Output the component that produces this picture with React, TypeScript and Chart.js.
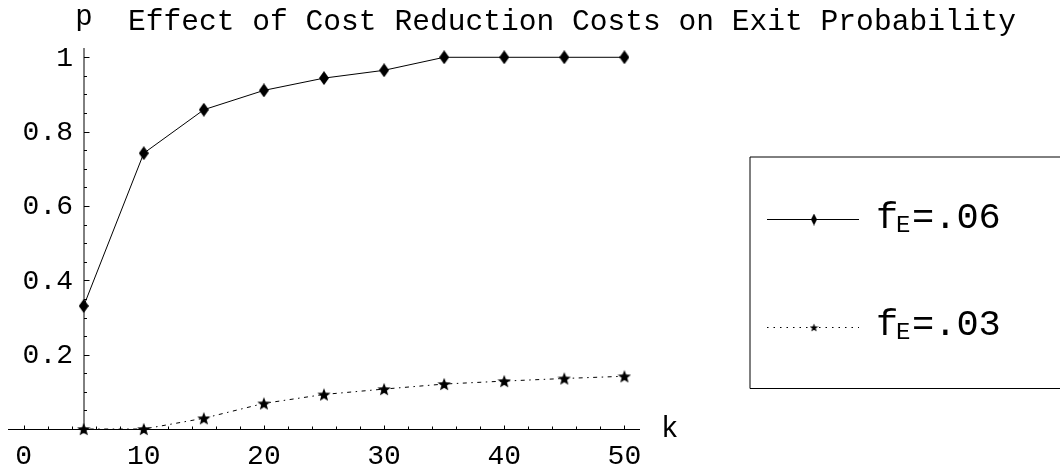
import React, { useEffect, useRef } from 'react';
import { Chart, registerables } from 'chart.js';

Chart.register(...registerables);

// ---- data ----
const kValues = [5, 10, 15, 20, 25, 30, 35, 40, 45, 50];
const pHigh = [0.331, 0.742, 0.859, 0.911, 0.944, 0.965, 1, 1, 1, 1];
const pLow = [0, 0, 0.029, 0.069, 0.093, 0.1075, 0.121, 0.129, 0.136, 0.142];
const xTickLabels = [0, 10, 20, 30, 40, 50];
const yTickLabels = [0.2, 0.4, 0.6, 0.8, 1];
const seriesValues = ['.06', '.03'];
const titleText = 'Effect of Cost Reduction Costs on Exit Probability';
const xAxisLabel = 'k';
const yAxisLabel = 'p';

const FONT = '"Liberation Mono", "DejaVu Sans Mono", monospace';

function makeDiamond(w: number, h: number) {
  const c = document.createElement('canvas');
  c.width = w;
  c.height = h;
  const ctx = c.getContext('2d')!;
  ctx.fillStyle = '#000';
  ctx.beginPath();
  ctx.moveTo(w / 2, 0);
  ctx.lineTo(w, h / 2);
  ctx.lineTo(w / 2, h);
  ctx.lineTo(0, h / 2);
  ctx.closePath();
  ctx.fill();
  return c;
}

function makeStar(size: number, innerRatio: number) {
  const c = document.createElement('canvas');
  c.width = size;
  c.height = size;
  const ctx = c.getContext('2d')!;
  const cx = size / 2, cy = size / 2 + size * 0.05;
  const ro = size / 2, ri = ro * innerRatio;
  ctx.fillStyle = '#000';
  ctx.beginPath();
  for (let i = 0; i < 10; i++) {
    const r = i % 2 === 0 ? ro : ri;
    const a = -Math.PI / 2 + (i * Math.PI) / 5;
    const px = cx + r * Math.cos(a);
    const py = cy + r * Math.sin(a);
    if (i === 0) ctx.moveTo(px, py);
    else ctx.lineTo(px, py);
  }
  ctx.closePath();
  ctx.fill();
  return c;
}

function drawSpaced(
  ctx: CanvasRenderingContext2D,
  text: string,
  x: number,
  y: number,
  font: string,
  spacing: number,
  align: 'left' | 'center' | 'right'
) {
  ctx.save();
  ctx.font = font;
  (ctx as any).letterSpacing = '0px';
  const base = ctx.measureText(text).width;
  const w = base + spacing * (text.length - 1);
  let sx = x;
  if (align === 'center') sx = x - w / 2;
  else if (align === 'right') sx = x - w;
  (ctx as any).letterSpacing = spacing + 'px';
  ctx.textAlign = 'left';
  ctx.textBaseline = 'alphabetic';
  ctx.fillStyle = '#000';
  ctx.fillText(text, sx, y);
  ctx.restore();
}

export default function App() {
  const ref = useRef<HTMLCanvasElement>(null);

  useEffect(() => {
    const canvas = ref.current!;
    const diamond = makeDiamond(10, 14);
    const star = makeStar(14, 0.42);
    const legendDiamond = makeDiamond(6, 12);
    const legendStar = makeStar(9, 0.42);

    const axesPlugin = {
      id: 'mmaAxes',
      beforeDatasetsDraw(chart: any) {
        const ctx = chart.ctx as CanvasRenderingContext2D;
        const xs = chart.scales.x;
        const ys = chart.scales.y;
        const area = chart.chartArea;
        const y0 = Math.floor(ys.getPixelForValue(0)) + 0.5;
        const x0 = Math.round(xs.getPixelForValue(5));
        ctx.save();
        ctx.strokeStyle = '#000';
        ctx.lineWidth = 1;
        // x axis
        ctx.beginPath();
        ctx.moveTo(area.left, y0);
        ctx.lineTo(area.right, y0);
        ctx.stroke();
        // y axis
        ctx.beginPath();
        ctx.moveTo(x0, area.top);
        ctx.lineTo(x0, area.bottom);
        ctx.stroke();
        // x ticks every 2
        for (let k = 0; k <= 50; k += 2) {
          const px = Math.round(xs.getPixelForValue(k)) + 0.5;
          const len = k % 10 === 0 ? 4 : 3;
          ctx.beginPath();
          ctx.moveTo(px, y0);
          ctx.lineTo(px, y0 - len);
          ctx.stroke();
        }
        // y ticks every 0.05
        for (let i = 1; i <= 20; i++) {
          const py = Math.round(ys.getPixelForValue(i * 0.05)) + 0.5;
          const len = i % 4 === 0 ? 5.5 : 3;
          ctx.beginPath();
          ctx.moveTo(x0, py);
          ctx.lineTo(x0 + len, py);
          ctx.stroke();
        }
        ctx.restore();

        const tickFont = `28px ${FONT}`;
        xTickLabels.forEach((v) => {
          drawSpaced(ctx, String(v), xs.getPixelForValue(v), y0 + 34, tickFont, 0, 'center');
        });
        yTickLabels.forEach((v) => {
          drawSpaced(ctx, String(v), 73, ys.getPixelForValue(v) + 8.5, tickFont, 0, 'right');
        });
        drawSpaced(ctx, yAxisLabel, x0, 25, `29px ${FONT}`, 0, 'center');
        drawSpaced(ctx, xAxisLabel, 661, y0 + 7.5, `29px ${FONT}`, 0, 'left');
        drawSpaced(ctx, titleText, 128, 30, `29.6px ${FONT}`, 0, 'left');
      },
    };

    const legendPlugin = {
      id: 'mmaLegend',
      afterDraw(chart: any) {
        const ctx = chart.ctx as CanvasRenderingContext2D;
        ctx.save();
        ctx.strokeStyle = '#000';
        ctx.lineWidth = 1;
        // box
        ctx.beginPath();
        ctx.moveTo(750, 157);
        ctx.lineTo(1070, 157);
        ctx.moveTo(750, 157);
        ctx.lineTo(750, 388.5);
        ctx.lineTo(1070, 388.5);
        ctx.stroke();

        const rows = [
          { y: 219.5, dash: [] as number[], marker: legendDiamond, textY: 228, subY: 232 },
          { y: 327.5, dash: [1.5, 5], marker: legendStar, textY: 335, subY: 339 },
        ];
        rows.forEach((r, i) => {
          ctx.setLineDash(r.dash);
          ctx.beginPath();
          ctx.moveTo(767, r.y);
          ctx.lineTo(859, r.y);
          ctx.stroke();
          ctx.setLineDash([]);
          ctx.drawImage(r.marker, 814 - r.marker.width / 2, r.y - r.marker.height / 2);
          drawSpaced(ctx, 'f', 876, r.textY, `37px ${FONT}`, 0, 'left');
          drawSpaced(ctx, 'E', 896, r.subY, `24px ${FONT}`, 0, 'left');
          drawSpaced(ctx, '=' + seriesValues[i], 912, r.textY, `37px ${FONT}`, 0, 'left');
        });
        ctx.restore();
      },
    };

    const chart = new Chart(canvas, {
      type: 'line',
      data: {
        datasets: [
          {
            label: 'fE=' + seriesValues[0],
            data: kValues.map((k, i) => ({ x: k, y: pHigh[i] })),
            borderColor: '#000',
            backgroundColor: '#000',
            borderWidth: 1,
            pointStyle: diamond as any,
            pointRadius: 6,
            tension: 0,
            clip: false as any,
          },
          {
            label: 'fE=' + seriesValues[1],
            data: kValues.map((k, i) => ({ x: k, y: pLow[i] })),
            borderColor: '#000',
            backgroundColor: '#000',
            borderWidth: 1,
            borderDash: [1.5, 4.5, 4, 4.5],
            pointStyle: star as any,
            pointRadius: 6,
            tension: 0,
            clip: false as any,
          },
        ],
      },
      options: {
        responsive: false,
        animation: false,
        devicePixelRatio: 1,
        events: [],
        layout: { padding: { left: 8, right: 420, top: 48, bottom: 36.5 } },
        scales: {
          x: { type: 'linear', min: -1.3, max: 51.3, display: false },
          y: { type: 'linear', min: -0.012, max: 1.025, display: false },
        },
        plugins: {
          legend: { display: false },
          tooltip: { enabled: false },
          title: { display: false },
        },
      },
      plugins: [axesPlugin, legendPlugin],
    });
    return () => chart.destroy();
  }, []);

  return (
    <div style={{ position: 'fixed', left: 0, top: 0, width: 1060, height: 470, background: '#fff' }}>
      <canvas ref={ref} width={1060} height={470} style={{ display: 'block' }} />
    </div>
  );
}
